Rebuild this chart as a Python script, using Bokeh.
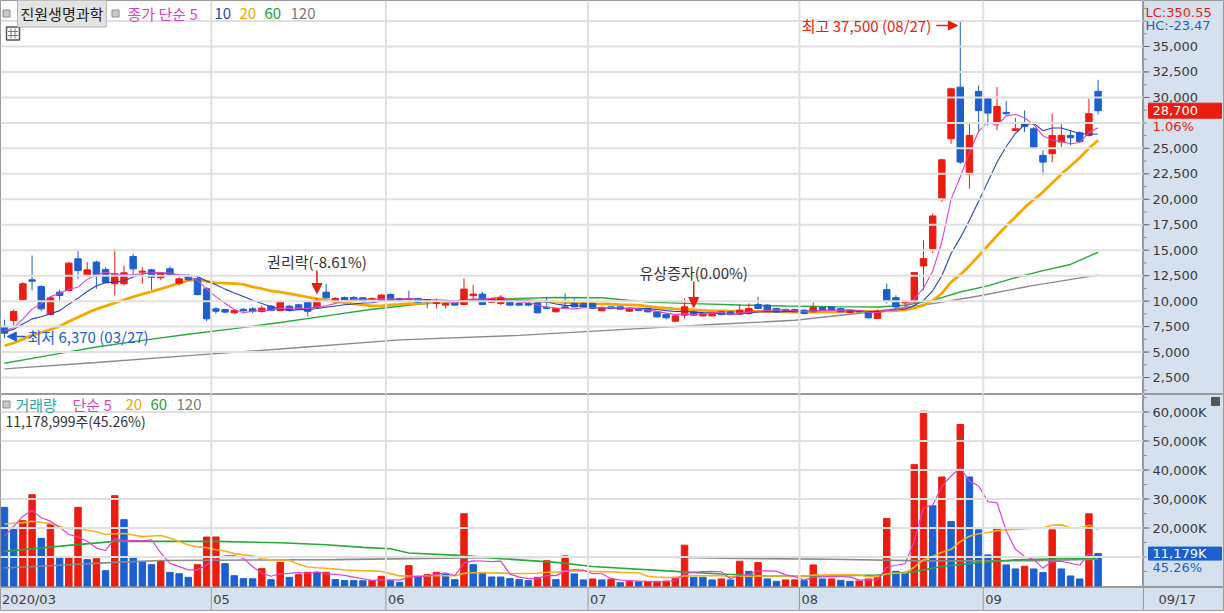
import numpy as np
import pandas as pd
from bokeh.plotting import figure
from bokeh.layouts import column, row
from bokeh.models import Range1d, Span, Label, Arrow, NormalHead, ColumnDataSource
from bokeh.core.properties import value
from bokeh.embed import file_html
from bokeh.resources import INLINE

# ---------------- data ----------------
stock_name = "진원생명과학"
month_labels = ["2020/03", "05", "06", "07", "08", "09"]
month_start_idx = [0, 23, 42, 64, 87, 107]
last_date_label = "09/17"

opens = [7510, 8100, 10130, 12090, 11440, 8690, 10880, 11040, 14150, 12520,
         13830, 13110, 11700, 11700, 14380, 12840, 13070, 12290, 13170, 11760,
         12520, 12190, 11210, 9240, 9180, 8850, 9200, 9240, 8980, 9510,
         9080, 9510, 9640, 9900, 9400, 10880, 9930, 10360, 10360, 10330,
         10130, 10030, 10660, 10260, 10260, 10260, 10160, 9770, 9610, 9840,
         9670, 10530, 10690, 9870, 9770, 10000, 9770, 9770, 9840, 9410,
         8950, 9440, 9770, 9770, 9770, 9050, 9440, 9440, 9010, 9280,
         9280, 8950, 8680, 8030, 8620, 8950, 8550, 8550, 8950, 8950,
         8720, 8780, 9670, 9610, 9280, 9180, 9180, 9110, 8950, 9380,
         9440, 9280, 8880, 9010, 8950, 8290, 11130, 10340, 9820, 9920,
         13450, 15150, 19960, 25940, 31010, 22440, 30590, 29870, 27580, 28530,
         26760, 27510, 26920, 24310, 24470, 25620, 26270, 26530, 26270, 30600]
highs = [8170, 9180, 11860, 14480, 11540, 10460, 11110, 13830, 15040, 13830,
         13990, 13340, 15140, 13500, 14640, 13340, 13170, 12840, 13400, 12350,
         12620, 12420, 11370, 9410, 9240, 9180, 9300, 9410, 9570, 9600,
         10060, 9600, 9740, 9960, 10320, 11700, 10400, 10450, 10500, 10400,
         10350, 10700, 10750, 10330, 11020, 10330, 10200, 10260, 10100, 9900,
         12240, 11580, 10920, 10350, 10590, 10100, 9870, 9800, 9900, 10430,
         9350, 10760, 10260, 9850, 9850, 9440, 9500, 9500, 9350, 9350,
         9330, 9000, 8750, 8620, 10260, 9100, 8880, 8950, 9050, 9050,
         9670, 9770, 10430, 9700, 9350, 9250, 9250, 9200, 9870, 9450,
         9500, 9350, 9200, 9100, 9000, 9170, 11720, 10570, 10090, 12800,
         15970, 18590, 23880, 30850, 37500, 27410, 31170, 30030, 31010, 29640,
         28000, 28720, 27090, 24800, 28400, 27510, 26760, 26660, 29870, 31730]
lows = [6370, 7600, 10060, 11040, 9010, 8590, 9900, 10980, 12190, 12420,
        11210, 11800, 10550, 11540, 12680, 11700, 11110, 12090, 12580, 11540,
        12030, 10550, 8030, 8750, 8820, 8750, 8950, 8820, 8880, 9000,
        9000, 9000, 9150, 8490, 9300, 10230, 9850, 10100, 10000, 9900,
        10050, 9950, 10000, 10000, 9930, 9800, 9280, 9280, 9280, 9550,
        9610, 10260, 9610, 9800, 9610, 9550, 9550, 9500, 8800, 9250,
        8900, 9280, 9400, 9380, 9250, 9000, 9200, 9150, 8950, 9000,
        8900, 8400, 8200, 7950, 8290, 8550, 8500, 8500, 8620, 8620,
        8620, 8700, 9200, 9050, 8900, 8950, 8900, 8700, 8900, 9100,
        9100, 8900, 8850, 8900, 8300, 8250, 9760, 9270, 9430, 9850,
        11060, 14730, 19730, 25450, 23490, 21040, 26600, 27250, 26760, 28230,
        26690, 26600, 24960, 22350, 23650, 25130, 25290, 25520, 26170, 28330]
closes = [6850, 8980, 11700, 11960, 9240, 10320, 10550, 13730, 13010, 13070,
          12520, 11860, 12680, 12780, 13170, 12940, 12350, 12750, 12620, 12190,
          12090, 10650, 8260, 9010, 8920, 9080, 9050, 9010, 9310, 9080,
          9900, 9080, 9240, 9000, 10050, 10320, 10260, 10160, 10100, 10000,
          10260, 10590, 10100, 10100, 10160, 9870, 9930, 9930, 9770, 9610,
          11180, 10690, 9670, 10260, 10360, 9610, 9610, 9610, 8850, 9280,
          9280, 9340, 9440, 9440, 9280, 9380, 9280, 9210, 9280, 9080,
          8950, 8450, 8360, 8550, 9440, 8620, 8780, 8850, 8680, 8680,
          9110, 9280, 9280, 9110, 8950, 9010, 8950, 8780, 9380, 9180,
          9180, 8950, 9110, 8950, 8360, 9010, 10020, 9430, 9920, 12800,
          14170, 18360, 23880, 30850, 23650, 26270, 28720, 28460, 29110, 28400,
          26920, 27150, 25030, 23650, 26270, 26270, 26040, 25680, 28400, 28700]
# closes of the 19 sessions before the first visible candle (for the moving averages)
close_pre = [3900, 4000, 4100, 4200, 4300, 4350, 4400, 4500, 4600, 4950,
             6000, 6500, 6900, 7200, 7320, 7500, 7400, 7100, 6580]

# volume in thousands of shares
volume_k = [27120, 20220, 22520, 31480, 16430, 21140, 9880, 9900, 27120, 9080,
            9420, 5290, 31140, 22870, 9880, 8500, 7350, 8500, 4710, 4250,
            2990, 7350, 16890, 16900, 7700, 3560, 2530, 2500, 5970, 2180,
            8160, 2990, 3910, 4710, 4690, 4720, 2180, 1900, 1850, 1800,
            1850, 3330, 1840, 1260, 7010, 3100, 3910, 4710, 4140, 2180,
            24930, 7350, 4480, 3100, 3090, 2530, 2180, 1840, 2990, 8730,
            2180, 10380, 4150, 2080, 2420, 2080, 2310, 1150, 1500, 1450,
            1500, 1600, 1700, 3000, 14070, 3000, 2990, 2080, 2420, 2080,
            8530, 5070, 8070, 2420, 1610, 2080, 2100, 1850, 7260, 2420,
            2430, 1960, 1610, 1730, 2420, 3230, 23290, 5070, 4380, 41850,
            60300, 27670, 37590, 22250, 55690, 37590, 19370, 10720, 20180, 7260,
            5880, 6800, 5880, 4610, 19370, 5880, 3460, 2420, 24900, 11179]
volume_pre_k = [15000, 18000, 22000, 25000, 28000, 30000, 26000, 24000, 22000, 20000,
                24000, 26000, 22000, 20000, 19500, 3000, 5300, 21100, 29100]

# long moving averages (session index, value)
ma60_idx = [0, 5, 10, 15, 20, 25, 30, 35, 40, 45, 50, 55, 60, 65, 70, 75, 80, 85, 90, 95, 98, 101, 104, 107, 110, 113, 116, 119]
ma60_val = [3900, 4700, 5500, 6150, 6750, 7300, 7900, 8550, 9200, 9700, 10050, 10250, 10350, 10330, 9900, 9750,
            9620, 9520, 9460, 9430, 9600, 10080, 10900, 11500, 12300, 13000, 13600, 14800]
ma120_idx = [0, 10, 20, 30, 43, 56, 69, 77, 86, 95, 101, 106, 112, 119]
ma120_val = [3350, 3970, 4650, 5300, 6200, 6640, 7300, 7700, 8120, 9000, 9760, 10500, 11550, 12550]
vma60_idx = [0, 7, 12, 23, 30, 35, 39, 42, 44, 50, 54, 60, 64, 72, 78, 83, 90, 95, 99, 102, 106, 110, 115, 119]
vma60_val = [11950, 14000, 15400, 15400, 14900, 14250, 13330, 12870, 11400, 10460, 9420, 8160, 6700, 5200,
             4150, 3460, 3500, 3800, 4960, 6700, 8070, 9000, 9400, 9600]
vma120_idx = [0, 7, 12, 17, 36, 50, 60, 70, 78, 90, 100, 112, 119]
vma120_val = [6200, 7350, 8160, 8800, 9100, 9700, 9950, 10100, 9570, 9220, 8650, 8700, 9220]

price_ticks = [t for t in range(2500, 35001, 2500) if t != 27500]
price_minor = list(range(1250, 38751, 1250))
vol_ticks = list(range(20000, 60001, 10000))
vol_minor = list(range(5000, 65001, 5000))

# ---------------- style / geometry ----------------
RED = "#ec1c0e"
BLUE = "#1b5fd0"
STRIP = "#d5e1ef"
GRID = "#e0e0e0"
EDGE = "#9a9a9a"
FONT = "Noto Sans CJK KR"
NUMFONT = "DejaVu Sans"
C_MA5, C_MA10, C_MA20, C_MA60, C_MA120 = "#e53fcf", "#2b3fbd", "#f5a900", "#2aa83c", "#8a8a8a"

N = len(closes)
W = 1224
SW = 81             # right axis strip
FW = W - SW         # 1143
SX = 9.19           # px per session
X0 = -0.435
X1 = X0 + FW / SX
H_PRICE, H_VOL, H_DATE = 394, 193, 24
PK = 0.010185       # px per won
VK = 0.0029         # px per 1000 shares
VZ = 585.5          # page y of zero volume


def px(xp):
    return X0 + xp / SX


def py(yp):
    return 35000 - (yp - 46) / PK


def vy(yp):
    return (VZ - yp) / VK


def lab(fig, x, y, text, color, size="15px", font=FONT, align="left", **kw):
    fig.add_layout(Label(x=x, y=y, text=text, text_color=color, text_font=font,
                         text_font_size=size, text_align=align, text_baseline="middle", **kw))


def icon(fig, x, y, s=7, fill="#c9c9c9", line="#8a8a8a"):
    fig.rect(x=[x], y=[y], width=s, height=s, width_units="screen", height_units="screen",
             fill_color=fill, line_color=line, line_width=1)


def base_fig(width, height, xr, yr, bg="white"):
    f = figure(width=width, height=height, x_range=xr, y_range=yr,
               output_backend="svg", toolbar_location=None, x_axis_location=None, y_axis_location=None,
               min_border_left=0, min_border_right=0, min_border_top=0, min_border_bottom=0,
               background_fill_color=bg, border_fill_color=bg, outline_line_color=EDGE)
    f.grid.visible = False
    return f


def stext(fs, x, y, txt, color, size="13px"):
    fs.text(x=x, y=[y], text=[txt], text_baseline="middle", text_align="left",
            text_font=value(NUMFONT), text_font_size=value(size), text_color=color)


def strip_axis(fs, ticks, minor, labels):
    fs.segment(x0=0, y0=minor, x1=3, y1=minor, line_color="#8a8a8a", line_width=1)
    fs.segment(x0=0, y0=ticks, x1=6, y1=ticks, line_color="#6a6a6a", line_width=1)
    fs.text(x=9, y=ticks, text=labels, text_baseline="middle", text_align="left",
            text_font=value(NUMFONT), text_font_size=value("13px"), text_color="#3a3a3a")


boundaries = [m - 0.5 for m in month_start_idx[1:]]

# ---------------- price panel ----------------
s_all = pd.Series(close_pre + closes, dtype=float)
npre = len(close_pre)
ma5 = s_all.rolling(5).mean().values[npre:]
ma10 = s_all.rolling(10).mean().values[npre:]
ma20 = s_all.rolling(20).mean().values[npre:]

idx = np.arange(N)
o = np.array(opens, float); h = np.array(highs, float); l = np.array(lows, float); c = np.array(closes, float)
col = np.where(c >= o, RED, BLUE)
src = ColumnDataSource(dict(x=idx, o=o, h=h, l=l, c=c, top=np.maximum(o, c), bottom=np.minimum(o, c), color=col))

price_yr = Range1d(py(H_PRICE), py(0))
p = base_fig(FW, H_PRICE, Range1d(X0, X1), price_yr)
for b in boundaries:
    p.add_layout(Span(location=b, dimension="height", line_color=GRID, line_width=2))
for g in range(2500, 37501, 2500):
    p.add_layout(Span(location=g, dimension="width", line_color=GRID, line_width=2))

p.line(ma120_idx, ma120_val, line_color=C_MA120, line_width=1.4)
p.line(ma60_idx, ma60_val, line_color=C_MA60, line_width=1.4)
p.line(idx, ma20, line_color=C_MA20, line_width=2.8)
p.segment(x0="x", y0="h", x1="x", y1="l", line_color="color", line_width=1, source=src)
p.vbar(x="x", top="top", bottom="bottom", width=0.7, fill_color="color", line_color="color", source=src)
p.line(idx, ma10, line_color=C_MA10, line_width=1.1)
p.line(idx, ma5, line_color=C_MA5, line_width=1.1)

# header
icon(p, px(6), py(13))
lab(p, px(17), py(13), stock_name, "#222222",
    background_fill_color="#e3e3e3", border_line_color="#b5b5b5", padding=3)
icon(p, px(115), py(13))
lab(p, px(127), py(13), "종가 단순 5", "#e040c8")
lab(p, px(214), py(13), "10", "#2b44c8")
lab(p, px(239), py(13), "20", "#f0a800")
lab(p, px(264), py(13), "60", "#1e9e3a")
lab(p, px(290), py(13), "120", "#7a7a7a")
p.rect(x=[px(12.5)], y=[py(33)], width=13, height=13, width_units="screen", height_units="screen",
       fill_color="white", line_color="#555555", line_width=1.5)
for dxp in (-2, 2):
    p.segment(x0=[px(12.5 + dxp)], y0=[py(28)], x1=[px(12.5 + dxp)], y1=[py(38)], line_color="#777777", line_width=1)
for dyp in (31, 35):
    p.segment(x0=[px(7.5)], y0=[py(dyp)], x1=[px(17.5)], y1=[py(dyp)], line_color="#777777", line_width=1)

# annotations
i_hi = int(np.argmax(h)); i_lo = int(np.argmin(l))
xp_hi = (i_hi - X0) * SX
lab(p, px(xp_hi - 29), py(25), f"최고 {int(h[i_hi]):,} (08/27)", RED, align="right")
p.add_layout(Arrow(end=NormalHead(size=9, fill_color=RED, line_color=RED), x_start=px(xp_hi - 24), y_start=py(25),
                   x_end=i_hi - 0.3, y_end=py(25), line_color=RED, line_width=1.5))
xp_lo = (i_lo - X0) * SX
p.add_layout(Arrow(end=NormalHead(size=9, fill_color=BLUE, line_color=BLUE), x_start=px(xp_lo + 21), y_start=py(336),
                   x_end=i_lo + 0.3, y_end=py(336), line_color=BLUE, line_width=1.5))
lab(p, px(xp_lo + 23), py(336), f"최저 {int(l[i_lo]):,} (03/27)", BLUE)

events = [(34, "권리락(-8.61%)", 261, 270, 293), (75, "유상증자(0.00%)", 272, 281, 307)]
for ei, etxt, ty, y0p, y1p in events:
    lab(p, float(ei), py(ty), etxt, "#333333", align="center")
    p.add_layout(Arrow(end=NormalHead(size=10, fill_color=RED, line_color=RED), x_start=ei, y_start=py(y0p),
                       x_end=ei, y_end=py(y1p), line_color=RED, line_width=1.5))

# price axis strip
ps = base_fig(SW, H_PRICE, Range1d(0, SW), price_yr, bg=STRIP)
strip_axis(ps, price_ticks, price_minor, [f"{t:,}" for t in price_ticks])
stext(ps, 2, py(12), "LC:350.55", RED)
stext(ps, 2, py(25), "HC:-23.47", BLUE)
half = 7.5 / PK
ps.quad(left=[5], right=[78], bottom=[closes[-1] - half], top=[closes[-1] + half], fill_color=RED, line_color=RED)
stext(ps, 9, closes[-1], f"{closes[-1]:,}", "white")
chg = (closes[-1] / closes[-2] - 1) * 100
stext(ps, 9, closes[-1] - 16 / PK, f"{chg:.2f}%", RED)

# ---------------- volume panel ----------------
v_all = pd.Series(volume_pre_k + volume_k, dtype=float)
vpre = len(volume_pre_k)
vma5 = v_all.rolling(5).mean().values[vpre:]
vma20 = v_all.rolling(20).mean().values[vpre:]
vol = np.array(volume_k, float)
prev = np.concatenate([[volume_pre_k[-1]], vol[:-1]])
vcol = np.where(vol >= prev, RED, BLUE)
vsrc = ColumnDataSource(dict(x=idx, v=vol, color=vcol))

vol_yr = Range1d(vy(H_PRICE + H_VOL), vy(H_PRICE))
pv = base_fig(FW, H_VOL, p.x_range, vol_yr)
for b in boundaries:
    pv.add_layout(Span(location=b, dimension="height", line_color=GRID, line_width=2))
for g in range(10000, 60001, 10000):
    pv.add_layout(Span(location=g, dimension="width", line_color=GRID, line_width=2))

pv.vbar(x="x", top="v", bottom=0, width=0.7, fill_color="color", line_color="color", source=vsrc)
pv.line(vma120_idx, vma120_val, line_color=C_MA120, line_width=1.6)
pv.line(vma60_idx, vma60_val, line_color=C_MA60, line_width=1.6)
pv.line(idx, vma20, line_color="#f5b120", line_width=1.6)
pv.line(idx, vma5, line_color=C_MA5, line_width=1.2)

icon(pv, px(6), vy(404))
lab(pv, px(15), vy(404), "거래량", "#2ba6a3")
lab(pv, px(72), vy(404), "단순 5", "#e040c8")
lab(pv, px(125), vy(404), "20", "#f0a800")
lab(pv, px(150), vy(404), "60", "#1e9e3a")
lab(pv, px(176), vy(404), "120", "#7a7a7a")
vol_last = int(round(vol[-1] * 1000 - 1))
lab(pv, px(5), vy(420), f"{vol_last:,}주(45.26%)", "#333333", size="14px")

pvs = base_fig(SW, H_VOL, Range1d(0, SW), vol_yr, bg=STRIP)
strip_axis(pvs, vol_ticks, vol_minor, [f"{t:,}K" for t in vol_ticks])
vhalf = 6.5 / VK
pvs.quad(left=[5], right=[78], bottom=[vol[-1] - vhalf], top=[vol[-1] + vhalf], fill_color=BLUE, line_color=BLUE)
stext(pvs, 9, vol[-1], f"{int(vol[-1]):,}K", "white")
stext(pvs, 9, vol[-1] - 14 / VK, "45.26%", BLUE)
pvs.rect(x=[72], y=[vy(401)], width=8, height=8, width_units="screen", height_units="screen",
         fill_color="#555555", line_color="#555555")

# ---------------- date band ----------------
pdt = base_fig(W, H_DATE, Range1d(X0, X0 + W / SX), Range1d(0, H_DATE), bg=STRIP)
for b in boundaries + [X1]:
    pdt.add_layout(Span(location=b, dimension="height", line_color=EDGE, line_width=1))
for m, txt in zip(month_start_idx, month_labels):
    pdt.add_layout(Label(x=m - 0.5, y=12, x_offset=2, text=txt, text_color="#404040", text_font=NUMFONT,
                         text_font_size="13px", text_align="left", text_baseline="middle"))
pdt.add_layout(Label(x=px(1158), y=12, text=last_date_label, text_color="#404040", text_font=NUMFONT,
                     text_font_size="13px", text_align="left", text_baseline="middle"))

layout = column(row(p, ps, spacing=0), row(pv, pvs, spacing=0), pdt, spacing=0)
open("out.html", "w").write(file_html(layout, INLINE))
